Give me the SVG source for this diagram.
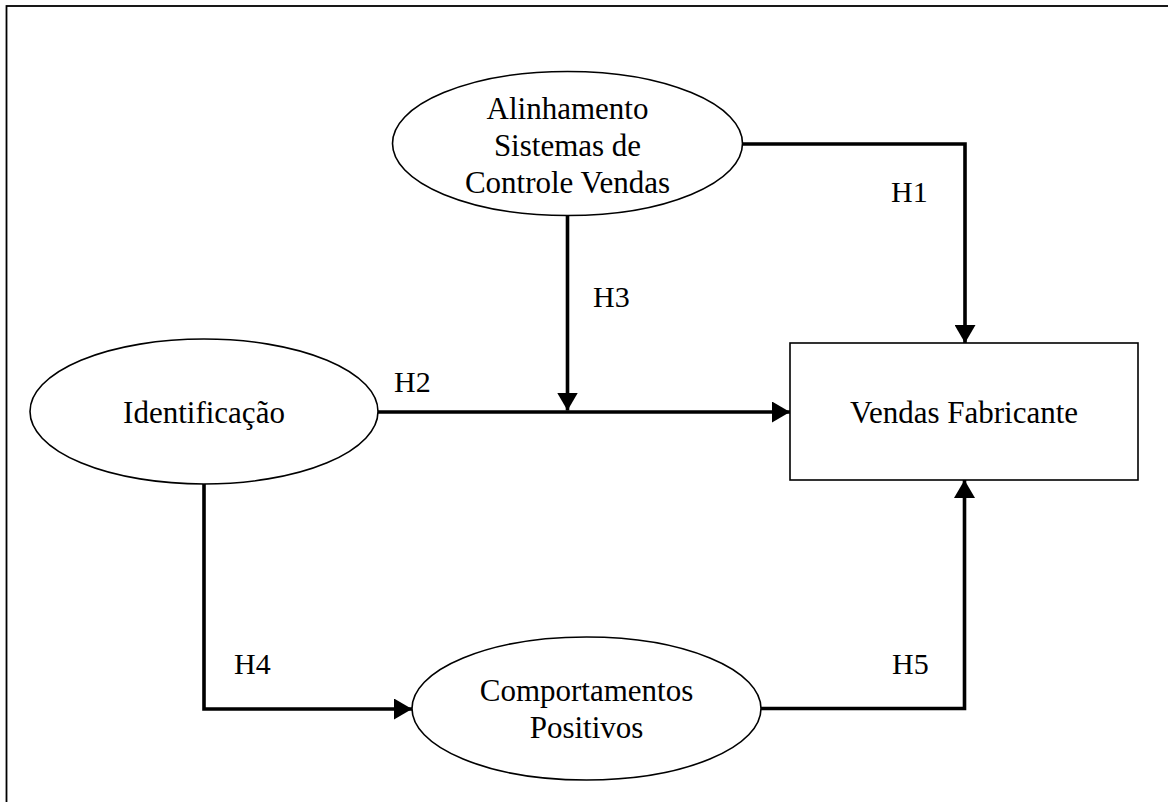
<svg xmlns="http://www.w3.org/2000/svg" width="1168" height="802" viewBox="0 0 1168 802">
  <style>
    .node { fill: #ffffff; stroke: #000000; stroke-width: 1.6; }
    .frame { fill: none; stroke: #000000; stroke-width: 1.8; }
    .conn { fill: none; stroke: #000000; stroke-width: 3.6; stroke-linejoin: miter; stroke-linecap: butt; }
    .ntext { font-family: "Liberation Serif", "Times New Roman", serif; font-size: 31px; fill: #000000; text-anchor: middle; }
    .ltext { font-family: "Liberation Serif", "Times New Roman", serif; font-size: 30px; fill: #000000; }
  </style>
  <defs>
    <marker id="arrow" viewBox="0 0 18 21" refX="18" refY="10.5" markerWidth="18" markerHeight="21" markerUnits="userSpaceOnUse" orient="auto">
      <path d="M0,0 L18,10.5 L0,21 Z" fill="#000000"/>
    </marker>
  </defs>
  <rect x="0" y="0" width="1168" height="802" fill="#ffffff"/>
  <rect class="frame" x="6.5" y="6" width="1200" height="900"/>

  <g id="connectors">
    <path id="H1" class="conn" d="M742.5,144 H965 V343" marker-end="url(#arrow)"/>
    <path id="H3" class="conn" d="M567.5,215.5 V410.5" marker-end="url(#arrow)"/>
    <path id="H2" class="conn" d="M378,412 H790" marker-end="url(#arrow)"/>
    <path id="H4" class="conn" d="M204,484 V709 H412" marker-end="url(#arrow)"/>
    <path id="H5" class="conn" d="M761,708.5 H964.5 V480" marker-end="url(#arrow)"/>
    <text class="ltext" x="891" y="202">H1</text>
    <text class="ltext" x="394" y="392">H2</text>
    <text class="ltext" x="593" y="307">H3</text>
    <text class="ltext" x="234" y="674">H4</text>
    <text class="ltext" x="892" y="674">H5</text>
  </g>

  <g id="node-alinhamento">
    <ellipse class="node" cx="567.5" cy="143.5" rx="175" ry="72"/>
    <text class="ntext" x="567.5" y="119">Alinhamento</text>
    <text class="ntext" x="567.5" y="156">Sistemas de</text>
    <text class="ntext" x="567.5" y="193">Controle Vendas</text>
  </g>

  <g id="node-identificacao">
    <ellipse class="node" cx="204" cy="411.5" rx="174" ry="72.5"/>
    <text class="ntext" x="204" y="423">Identificação</text>
  </g>

  <g id="node-vendas">
    <rect class="node" x="790" y="343" width="348" height="137"/>
    <text class="ntext" x="964" y="423">Vendas Fabricante</text>
  </g>

  <g id="node-comportamentos">
    <ellipse class="node" cx="586.5" cy="708.5" rx="174.5" ry="71.5"/>
    <text class="ntext" x="586.5" y="701">Comportamentos</text>
    <text class="ntext" x="586.5" y="738">Positivos</text>
  </g>
</svg>
